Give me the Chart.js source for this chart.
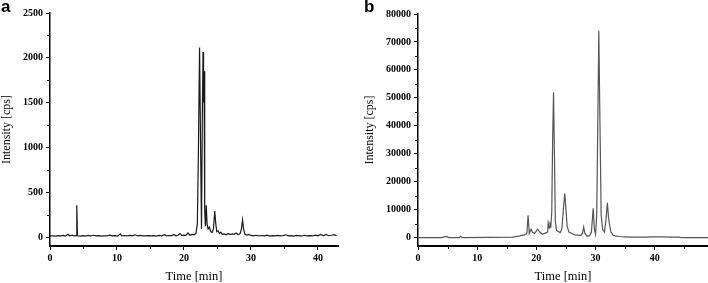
<!DOCTYPE html>
<html>
<head>
<meta charset="utf-8">
<script src="https://cdn.jsdelivr.net/npm/chart.js@4.4.1/dist/chart.umd.min.js"></script>
<style>
  body { margin: 0; background: #fff; width: 708px; height: 283px; overflow: hidden; position: relative; }
  .painel { position: absolute; top: 0; width: 354px; height: 283px; }
  .letra { position: absolute; top: -3px; font: bold 17px "Liberation Sans", Arial, sans-serif; color: #000; }
</style>
</head>
<body>
<div class="painel" style="left:0"><canvas id="chartA" width="354" height="283"></canvas></div>
<div class="painel" style="left:354px"><canvas id="chartB" width="354" height="283"></canvas></div>
<div class="letra" style="left:1px">a</div>
<div class="letra" style="left:364px">b</div>
<script>
// painel a
const tempoA = [
  0.0, 0.4, 0.8, 1.2, 1.6, 2.0, 2.3, 2.7, 2.9, 3.3, 3.6, 3.9, 4.0, 4.1, 4.5, 4.9, 5.3, 5.7, 6.1, 6.5,
  6.9, 7.3, 7.7, 8.1, 8.5, 8.9, 9.3, 9.7, 10.1, 10.5, 10.7, 11.1, 11.5, 11.9, 12.3, 12.7, 13.1, 13.5, 13.9, 14.3,
  14.7, 15.1, 15.5, 15.9, 16.3, 16.7, 17.1, 17.4, 17.8, 18.2, 18.5, 18.8, 19.1, 19.4, 19.7, 20.0, 20.3, 20.6, 20.9, 21.2,
  21.5, 21.8, 22.0, 22.15, 22.33, 22.5, 22.62, 22.75, 22.85, 22.93, 23.0, 23.1, 23.2, 23.33, 23.45, 23.6, 23.8, 24.0, 24.2, 24.4,
  24.6, 24.75, 24.9, 25.1, 25.3, 25.5, 25.7, 26.0, 26.3, 26.6, 26.9, 27.2, 27.5, 27.8, 28.1, 28.4, 28.6, 28.75, 28.9, 29.1,
  29.4, 29.7, 30.0, 30.4, 30.8, 31.2, 31.6, 32.0, 32.4, 32.8, 33.2, 33.6, 34.0, 34.4, 34.8, 35.2, 35.6, 36.0, 36.4, 36.8,
  37.2, 37.6, 38.0, 38.4, 38.8, 39.2, 39.6, 40.0, 40.4, 40.8, 41.2, 41.6, 42.0, 42.4, 42.8
];
const intensidadeA = [
  12, 14, 10, 15, 12, 18, 11, 30, 14, 20, 13, 15, 355, 14, 10, 16, 11, 18, 12, 20,
  13, 16, 10, 14, 12, 22, 13, 16, 11, 35, 14, 17, 12, 19, 13, 25, 12, 18, 14, 13,
  16, 12, 15, 11, 18, 14, 26, 13, 17, 15, 28, 14, 20, 38, 16, 22, 18, 45, 20, 30,
  25, 40, 150, 900, 2115, 900, 90, 1400, 2065, 1500, 1850, 300, 120, 355, 150, 90, 110, 60, 50, 90,
  290, 150, 60, 70, 40, 55, 30, 35, 25, 40, 28, 35, 30, 45, 25, 40, 100, 190, 90, 30,
  22, 30, 18, 14, 20, 12, 17, 13, 22, 11, 15, 13, 18, 12, 16, 25, 13, 15, 11, 18,
  14, 12, 20, 13, 16, 12, 22, 14, 30, 13, 28, 15, 20, 26, 14
];
const ticksXA = [0, 10, 20, 30, 40];
const ticksYA = [0, 500, 1000, 1500, 2000, 2500];
const menoresXA = [5, 15, 25, 35];
const menoresYA = [250, 750, 1250, 1750, 2250];

// painel b
const tempoB = [
  0, 4.0, 4.8, 5.2, 7.0, 7.2, 7.5, 12.0, 16.0, 17.0, 17.5, 18.0, 18.4, 18.6, 18.8, 19.1, 19.4, 19.7, 20.2, 20.6,
  21.0, 21.5, 21.9, 22.0, 22.15, 22.3, 22.45, 22.6, 22.75, 22.9, 23.05, 23.2, 23.4, 23.7, 24.0, 24.3, 24.55, 24.8, 25.0, 25.2,
  25.5, 26.0, 26.5, 27.0, 27.5, 27.8, 28.0, 28.2, 28.6, 29.0, 29.3, 29.6, 29.8, 30.0, 30.2, 30.4, 30.55, 30.75, 30.95, 31.2,
  31.5, 31.75, 32.0, 32.2, 32.4, 32.6, 33.0, 33.5, 34.0, 35.0, 36.0, 38.0, 40.0, 41.0, 43.0, 44.0, 44.5, 49.0
];
const intensidadeB = [
  0, 0, 400, 0, 0, 500, 0, 100, 200, 500, 800, 1000, 1500, 8000, 1500, 3000, 1800, 1500, 3000, 2000,
  1200, 1600, 2000, 5200, 3500, 5000, 4200, 9000, 35000, 52000, 30000, 6000, 2500, 2200, 1800, 3000, 10000, 15800, 10000, 4000,
  2000, 1500, 1000, 900, 800, 1500, 3800, 1500, 500, 700, 2000, 10500, 3000, 1200, 8000, 45000, 74000, 40000, 8000, 3000,
  2000, 6000, 12500, 7000, 4200, 2000, 800, 500, 400, 300, 200, 200, 300, 250, 200, 150, 0, 0
];
const ticksXB = [0, 10, 20, 30, 40];
const ticksYB = [0, 10000, 20000, 30000, 40000, 50000, 60000, 70000, 80000];
const menoresXB = [5, 15, 25, 35, 45];
const menoresYB = [5000, 15000, 25000, 35000, 45000, 55000, 65000, 75000];

const fonteSerif = '"Liberation Serif", "Times New Roman", serif';

const tracosMenores = {
  id: "tracosMenores",
  afterDraw(chart, args, opts) {
    const { ctx, chartArea, scales } = chart;
    ctx.save();
    ctx.strokeStyle = "#000";
    ctx.lineWidth = 1;
    ctx.beginPath();
    (opts.x || []).forEach((v) => {
      const px = Math.round(scales.x.getPixelForValue(v)) + 0.5;
      ctx.moveTo(px, chartArea.bottom);
      ctx.lineTo(px, chartArea.bottom + opts.len);
    });
    (opts.y || []).forEach((v) => {
      const py = Math.round(scales.y.getPixelForValue(v)) + 0.5;
      ctx.moveTo(chartArea.left, py);
      ctx.lineTo(chartArea.left - opts.len, py);
    });
    ctx.stroke();
    ctx.restore();
  },
};

function desenharCromatograma(id, cfg) {
  const pontos = cfg.tempo.map((t, i) => ({ x: t, y: cfg.intensidade[i] }));
  return new Chart(document.getElementById(id), {
    type: "line",
    data: {
      datasets: [
        {
          data: pontos,
          borderColor: cfg.cor,
          borderWidth: 1.2,
          pointRadius: 0,
          tension: 0,
          fill: false,
        },
      ],
    },
    plugins: [tracosMenores],
    options: {
      responsive: false,
      animation: false,
      layout: { padding: cfg.padding },
      plugins: {
        legend: { display: false },
        tooltip: { enabled: false },
        tracosMenores: { x: cfg.menoresX, y: cfg.menoresY, len: 3 },
      },
      scales: {
        x: {
          type: "linear",
          min: 0,
          max: cfg.xMax,
          afterBuildTicks: (s) => { s.ticks = cfg.ticksX.map((v) => ({ value: v })); },
          afterFit: (s) => { s.height = 37; },
          border: { display: true, color: "#000", width: 2 },
          grid: { drawOnChartArea: false, tickLength: 4, tickColor: "#000", tickWidth: 1 },
          ticks: {
            color: "#000",
            padding: 2,
            maxRotation: 0,
            callback: (v) => String(v),
            font: { family: fonteSerif, size: 10, weight: "bold" },
          },
          title: {
            display: true,
            text: "Time [min]",
            color: "#000",
            padding: 0,
            font: { family: fonteSerif, size: 12.5, lineHeight: 1 },
          },
        },
        y: {
          type: "linear",
          min: cfg.yMin,
          max: cfg.yMax,
          afterBuildTicks: (s) => { s.ticks = cfg.ticksY.map((v) => ({ value: v })); },
          afterFit: (s) => { s.width = cfg.larguraY; },
          border: { display: true, color: "#000", width: 1.5 },
          grid: { drawOnChartArea: false, tickLength: 4, tickColor: "#000", tickWidth: 1 },
          ticks: {
            color: "#000",
            padding: 3,
            callback: (v) => String(v),
            font: { family: fonteSerif, size: 10, weight: "bold" },
          },
          title: {
            display: true,
            text: "Intensity [cps]",
            color: "#000",
            padding: { top: cfg.tituloY, bottom: 0 },
            font: { family: fonteSerif, size: 12, lineHeight: 1.1 },
          },
        },
      },
    },
  });
}

desenharCromatograma("chartA", {
  tempo: tempoA,
  intensidade: intensidadeA,
  cor: "#1a1a1a",
  xMax: 43,
  yMin: -100,
  yMax: 2500,
  ticksX: ticksXA,
  ticksY: ticksYA,
  menoresX: menoresXA,
  menoresY: menoresYA,
  larguraY: 50,
  tituloY: 0,
  padding: { top: 13, right: 16, left: 0, bottom: 0 },
});

desenharCromatograma("chartB", {
  tempo: tempoB,
  intensidade: intensidadeB,
  cor: "#555",
  xMax: 49,
  yMin: -3000,
  yMax: 80000,
  ticksX: ticksXB,
  ticksY: ticksYB,
  menoresX: menoresXB,
  menoresY: menoresYB,
  larguraY: 64,
  tituloY: 9,
  padding: { top: 14, right: 0, left: 0, bottom: 0 },
});
</script>
</body>
</html>
